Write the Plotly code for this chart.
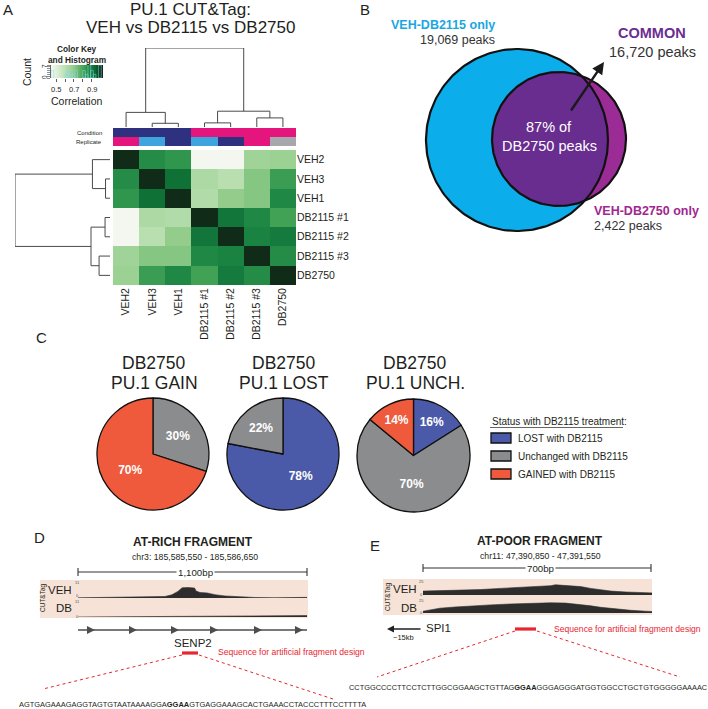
import numpy as np
import plotly.graph_objects as go

W, H = 708, 709
FONT = "Liberation Sans, Arial, Helvetica, sans-serif"
INK = "#231F20"

# ---------------- data ----------------
samples = ["VEH2", "VEH3", "VEH1", "DB2115 #1", "DB2115 #2", "DB2115 #3", "DB2750"]
corr = [
    [1.00, 0.86, 0.84, 0.45, 0.45, 0.66, 0.67],
    [0.86, 1.00, 0.92, 0.63, 0.60, 0.71, 0.82],
    [0.84, 0.92, 1.00, 0.62, 0.69, 0.71, 0.87],
    [0.45, 0.63, 0.62, 1.00, 0.91, 0.87, 0.81],
    [0.45, 0.60, 0.69, 0.91, 1.00, 0.88, 0.90],
    [0.66, 0.71, 0.71, 0.87, 0.88, 1.00, 0.86],
    [0.67, 0.82, 0.87, 0.81, 0.90, 0.86, 1.00],
]
condition = ["VEH", "VEH", "VEH", "DB", "DB", "DB", "DB"]
replicate = ["r3", "r2", "r1", "r2", "r1", "r3", "single"]
# dendrogram merges (leaf indices in display order, new ids from 7) and heights
dend_merges = [(1, 2), (0, 7), (3, 4), (5, 6), (9, 10), (8, 11)]
dend_heights = [0.047, 0.185, 0.052, 0.115, 0.2, 1.0]
key_ticks = [0.5, 0.6, 0.7, 0.8, 0.9]
key_ticklabels = ["0.5", "", "0.7", "", "0.9"]

venn_labels = ["VEH-DB2115 only", "COMMON", "VEH-DB2750 only"]
venn_counts = [19069, 16720, 2422]
common_pct = 87

pie_titles = ["DB2750<br>PU.1 GAIN", "DB2750<br>PU.1 LOST", "DB2750<br>PU.1 UNCH."]
pie_status = [["Unchanged", "GAINED"], ["LOST", "Unchanged"], ["LOST", "Unchanged", "GAINED"]]
pie_values = [[30, 70], [78, 22], [16, 70, 14]]
status_order = ["LOST", "Unchanged", "GAINED"]
status_text = ["LOST with DB2115", "Unchanged with DB2115", "GAINED with DB2115"]

# genome tracks (bp offset within window, signal)
d_veh_pos = [0, 106, 200, 346, 418, 451, 470, 480, 500, 515, 530, 545, 560, 567, 586, 620, 658, 706, 778, 850, 946, 1042, 1100]
d_veh_val = [0.15, 0.4, 0.5, 0.6, 1.2, 2.5, 4.0, 5.2, 8.0, 8.3, 8.2, 8.0, 7.8, 5.5, 4.3, 4.0, 2.6, 1.6, 0.8, 0.4, 0.2, 0.5, 0.5]
d_db_pos = [0, 696, 850, 1000, 1100]
d_db_val = [0.0, 0.9, 0.7, 1.1, 1.1]
e_veh_pos = [0, 52, 114, 175, 236, 298, 359, 390, 405, 427, 451, 482, 513, 543, 574, 620, 666, 700]
e_veh_val = [6.5, 7, 7.5, 9, 11, 12.5, 14, 15.5, 17, 16, 15, 14, 11, 8.5, 6.5, 5, 4, 3.5]
e_db_pos = [0, 21, 52, 98, 144, 206, 267, 328, 390, 436, 482, 513, 543, 589, 635, 681, 700]
e_db_val = [3, 5, 8, 10, 12, 13.5, 15, 16.5, 17, 16.5, 14.5, 12, 9.5, 6.5, 4.5, 3, 2.5]
d_span, e_span = 1100, 700
d_max, e_max = 11, 25

seq_d = "AGTGAGAAAGAGGTAGTGTAATAAAAGGA<b>GGAA</b>GTGAGGAAAGCACTGAAACCTACCCTTTCCTTTTA"
seq_e = "CCTGGCCCCTTCCTCTTGGCGGAAGCTGTTAG<b>GGAA</b>GGGAGGGATGGTGGCCTGCTGTGGGGGAAAAC"

# ---------------- colours ----------------
GREENS = [[0, '#F7F8F4'], [0.25, '#C2E3BA'], [0.45, '#92CC8A'], [0.65, '#44A457'],
          [0.8, '#168040'], [0.9, '#0B6630'], [1.0, '#102C18']]
ANN_PAL = {"VEH": "#2E3180", "DB": "#E5157E", "r1": "#2E3180", "r2": "#3DA4DD", "r3": "#E5157E", "single": "#A7A8AC"}
ANN_KEYS = ["#2E3180", "#E5157E", "#3DA4DD", "#A7A8AC"]
STATUS_COL = {"LOST": "#4B5AA8", "Unchanged": "#8B8C8E", "GAINED": "#EE5A3B"}
V_BLUE, V_MAG, V_PUR = "#0BAEEA", "#9B2C96", "#692C8F"


def px_x(a, b):
    return [a / W, b / W]


def px_y(top, bottom):
    return [1 - bottom / H, 1 - top / H]


fig = go.Figure()
lay = dict(width=W, height=H, margin=dict(l=0, r=0, t=0, b=0), paper_bgcolor='white',
           plot_bgcolor='rgba(0,0,0,0)', showlegend=False, font=dict(family=FONT, color=INK))
hid = dict(visible=False, fixedrange=True, showgrid=False, zeroline=False)

# ---- heatmap
fig.add_trace(go.Heatmap(z=corr, x=list(range(7)), y=list(range(7)), colorscale=GREENS,
                         zmin=0.44, zmax=1.0, showscale=False, hoverinfo='skip', xaxis='x', yaxis='y'))
lay['xaxis'] = dict(domain=px_x(113, 296), range=[-0.5, 6.5], tickvals=list(range(7)), ticktext=samples,
                    tickangle=-90, tickfont=dict(size=10.5), ticks='', showgrid=False, zeroline=False,
                    anchor='y', fixedrange=True)
lay['yaxis'] = dict(domain=px_y(150, 285), range=[6.5, -0.5], tickvals=list(range(7)), ticktext=samples,
                    side='right', tickfont=dict(size=10.5), ticks='', showgrid=False, zeroline=False,
                    anchor='x', fixedrange=True)

# ---- annotation colour bars
code = {c: i for i, c in enumerate(ANN_KEYS)}
ann_z = [[code[ANN_PAL[r]] for r in replicate], [code[ANN_PAL[c]] for c in condition]]
dcs = []
for i, c in enumerate(ANN_KEYS):
    dcs += [[i / 4, c], [(i + 1) / 4, c]]
fig.add_trace(go.Heatmap(z=ann_z, x=list(range(7)), y=[0, 1], colorscale=dcs, zmin=-0.5, zmax=3.5,
                         showscale=False, hoverinfo='skip', xaxis='x2', yaxis='y2'))
lay['xaxis2'] = dict(hid, domain=px_x(113, 296), range=[-0.5, 6.5], anchor='y2')
lay['yaxis2'] = dict(hid, domain=px_y(128, 146), range=[-0.5, 1.5], anchor='x2')

# ---- dendrograms
pos = {i: float(i) for i in range(7)}
hgt = {i: 0.0 for i in range(7)}
dp, dh = [], []
for k, ((a, b), h) in enumerate(zip(dend_merges, dend_heights)):
    dp += [pos[a], pos[a], pos[b], pos[b], None]
    dh += [hgt[a], h, h, hgt[b], None]
    pos[7 + k] = (pos[a] + pos[b]) / 2
    hgt[7 + k] = h
fig.add_trace(go.Scatter(x=dp, y=dh, mode='lines', line=dict(color='#4a4a4a', width=1),
                         hoverinfo='skip', xaxis='x3', yaxis='y3'))
lay['xaxis3'] = dict(hid, domain=px_x(113, 296), range=[-0.5, 6.5], anchor='y3')
lay['yaxis3'] = dict(hid, domain=px_y(48, 127), range=[0, 1], anchor='x3')
fig.add_trace(go.Scatter(x=dh, y=dp, mode='lines', line=dict(color='#4a4a4a', width=1),
                         hoverinfo='skip', xaxis='x4', yaxis='y4'))
lay['xaxis4'] = dict(hid, domain=px_x(15, 110), range=[1, 0], anchor='y4')
lay['yaxis4'] = dict(hid, domain=px_y(150, 285), range=[6.5, -0.5], anchor='x4')

# ---- colour key + histogram
KEY_RANGE = [0.44, 1.03]
key_x = list(np.linspace(0.44, 1.03, 80))
fig.add_trace(go.Heatmap(z=[key_x], x=key_x, y=[0.5], colorscale=GREENS, zmin=0.44, zmax=1.0,
                         showscale=False, hoverinfo='skip', xaxis='x5', yaxis='y5'))
lay['xaxis5'] = dict(domain=px_x(51, 103), range=KEY_RANGE, anchor='y5', tickvals=key_ticks,
                     showticklabels=False, ticks='outside', ticklen=3, tickcolor='#333', tickwidth=0.8,
                     showgrid=False, zeroline=False, showline=False, fixedrange=True)
lay['yaxis5'] = dict(hid, domain=px_y(65, 78), range=[0, 1], anchor='x5')
flat = [v for row in corr for v in row]
fig.add_trace(go.Histogram(x=flat, xbins=dict(start=0.44, end=1.03, size=0.03),
                           marker=dict(color='rgba(0,0,0,0)', line=dict(color='rgba(130,220,235,0.75)', width=0.7)),
                           hoverinfo='skip', xaxis='x6', yaxis='y6'))
lay['xaxis6'] = dict(hid, domain=px_x(51, 103), range=KEY_RANGE, anchor='y6')
lay['yaxis6'] = dict(domain=px_y(65, 78), range=[0, 7], anchor='x6', showline=True, linecolor='#444',
                     linewidth=0.8, ticks='outside', ticklen=3, tickwidth=0.6, tickcolor='#444', dtick=1,
                     showticklabels=False, showgrid=False, zeroline=False, fixedrange=True)

# ---- genome tracks
TR = dict(mode='lines', fill='tozeroy', fillcolor='#2D2D2D', line=dict(color='#2D2D2D', width=0.6),
          hoverinfo='skip')
tracks = [
    (d_veh_pos, d_veh_val, px_x(78, 307), px_y(584, 598), d_span, d_max),
    (d_db_pos, d_db_val, px_x(78, 307), px_y(603, 617), d_span, d_max),
    (e_veh_pos, e_veh_val, px_x(423, 652), px_y(580, 595), e_span, e_max),
    (e_db_pos, e_db_val, px_x(423, 652), px_y(598, 613), e_span, e_max),
]
for i, (xp, yv, dxd, dyd, span, mx) in enumerate(tracks):
    n = 7 + i
    fig.add_trace(go.Scatter(x=xp, y=yv, xaxis='x%d' % n, yaxis='y%d' % n, **TR))
    lay['xaxis%d' % n] = dict(hid, domain=dxd, range=[0, span], anchor='y%d' % n)
    lay['yaxis%d' % n] = dict(hid, domain=dyd, range=[0, mx], anchor='x%d' % n)

# ---- pixel overlay axis (x11/y11) for diagram elements
lay['xaxis11'] = dict(hid, domain=[0, 1], range=[0, W], anchor='y11')
lay['yaxis11'] = dict(hid, domain=[0, 1], range=[H, 0], anchor='x11')
PX = dict(xaxis='x11', yaxis='y11', hoverinfo='skip')

# Venn
cb, rb = np.array([517.0, 140.0]), 91.0
cp, rp = np.array([559.0, 139.0]), 67.0
th = np.linspace(0, 2 * np.pi, 240)


def circ(c, r):
    return c[0] + r * np.cos(th), c[1] + r * np.sin(th)


def inter(c1, r1, c2, r2):
    d = np.linalg.norm(c2 - c1)
    a = (r1 ** 2 - r2 ** 2 + d ** 2) / (2 * d)
    hh = np.sqrt(r1 ** 2 - a ** 2)
    u = (c2 - c1) / d
    p0 = c1 + a * u
    perp = np.array([-u[1], u[0]])
    return p0 + hh * perp, p0 - hh * perp


def arc(c, r, p, q, oc, orr):
    t0 = np.arctan2(p[1] - c[1], p[0] - c[0])
    t1 = np.arctan2(q[1] - c[1], q[0] - c[0])
    d = (t1 - t0) % (2 * np.pi)
    m = t0 + d / 2
    if np.hypot(c[0] + r * np.cos(m) - oc[0], c[1] + r * np.sin(m) - oc[1]) > orr:
        d -= 2 * np.pi
    t = t0 + np.linspace(0, 1, 120) * d
    return c[0] + r * np.cos(t), c[1] + r * np.sin(t)


P, Q = inter(cb, rb, cp, rp)
ax1, ay1 = arc(cp, rp, P, Q, cb, rb)
ax2, ay2 = arc(cb, rb, Q, P, cp, rp)
bx, by = circ(cb, rb)
mx_, my_ = circ(cp, rp)
fig.add_trace(go.Scatter(x=bx, y=by, fill='toself', fillcolor=V_BLUE, mode='lines', line=dict(width=0), **PX))
fig.add_trace(go.Scatter(x=mx_, y=my_, fill='toself', fillcolor=V_MAG, mode='lines', line=dict(width=0), **PX))
fig.add_trace(go.Scatter(x=np.concatenate([ax1, ax2]), y=np.concatenate([ay1, ay2]), fill='toself',
                         fillcolor=V_PUR, mode='lines', line=dict(width=0), **PX))
fig.add_trace(go.Scatter(x=bx, y=by, mode='lines', line=dict(color='#111', width=2.2), **PX))
fig.add_trace(go.Scatter(x=mx_, y=my_, mode='lines', line=dict(color='#111', width=2.2), **PX))


def seg(xs, ys, color, width, dash='solid'):
    fig.add_trace(go.Scatter(x=xs, y=ys, mode='lines', line=dict(color=color, width=width, dash=dash), **PX))


# scale bars
for (x0, x1, yy) in [(78, 307, 572), (423, 651, 568)]:
    seg([x0, x1, None, x0, x0, None, x1, x1], [yy, yy, None, yy - 4, yy + 4, None, yy - 4, yy + 4], '#333', 1.1)
# SENP2 gene line with chevrons
seg([78, 307], [630, 630], '#4d4d4d', 1.6)
fig.add_trace(go.Scatter(x=[95, 137, 179, 218, 262, 303], y=[630] * 6, mode='markers',
                         marker=dict(symbol='arrow-right', size=8, color='#4d4d4d'), **PX))
# red fragment bars + dotted guides
RED = '#E8262F'
seg([182, 198], [653, 653], RED, 3.2)
seg([515, 536], [629, 629], RED, 3.2)
seg([182, 43], [655, 689], RED, 1, 'dot')
seg([199, 333], [655, 699], RED, 1, 'dot')
seg([515, 377], [631, 677], RED, 1, 'dot')
seg([537, 680], [631, 677], RED, 1, 'dot')

# ---- pies
pie_dom = [(px_x(97, 209), px_y(398, 510)), (px_x(227, 339), px_y(398, 510)), (px_x(357, 470), px_y(399, 512))]
for vals, stat, (dxd, dyd) in zip(pie_values, pie_status, pie_dom):
    fig.add_trace(go.Pie(values=vals, labels=stat, sort=False, direction='clockwise', rotation=0,
                         domain=dict(x=dxd, y=dyd), marker=dict(colors=[STATUS_COL[s] for s in stat],
                                                                line=dict(color='#111', width=1.3)),
                         texttemplate='<b>%{value}%</b>', textposition='inside', insidetextorientation='horizontal',
                         textfont=dict(color='white', size=12, family=FONT), hoverinfo='skip'))

# ---- shapes
shapes = []
for (x0, x1, y0, y1) in [(40, 308, 580, 618), (383, 652, 579, 615)]:
    shapes.append(dict(type='rect', xref='paper', yref='paper', x0=x0 / W, x1=x1 / W, y0=1 - y1 / H, y1=1 - y0 / H,
                       fillcolor='#F6E2D6', line=dict(width=0), layer='below'))
for i, s in enumerate(status_order):
    y0 = 433 + 18 * i
    shapes.append(dict(type='rect', xref='x11', yref='y11', x0=491, x1=511, y0=y0, y1=y0 + 10,
                       fillcolor=STATUS_COL[s], line=dict(color='#111', width=1.3)))
shapes.append(dict(type='line', xref='x11', yref='y11', x0=490, x1=623, y0=427.5, y1=427.5,
                   line=dict(color='#222', width=0.7)))
lay['shapes'] = shapes

# ---- annotations
anns = []


def T(x, y, text, size, color=INK, xa='center', angle=0, bg=None, xref='x11'):
    d = dict(xref=xref, yref='y11', x=x, y=y, text=text, showarrow=False, xanchor=xa, yanchor='middle',
             textangle=angle, font=dict(size=size, color=color, family=FONT))
    if bg:
        d['bgcolor'] = bg
        d['borderpad'] = 1
    anns.append(d)


# panel letters
for lbl, x, y in [("A", 8, 9), ("B", 365, 9), ("C", 41, 337), ("D", 39, 537), ("E", 375, 545)]:
    T(x, y, lbl, 15)
# A
T(190, 9.5, "PU.1 CUT&amp;Tag:", 17)
T(190, 27, "VEH vs DB2115 vs DB2750", 17)
T(77, 49, "<b>Color Key</b>", 8.3)
T(77, 60, "<b>and Histogram</b>", 8.3)
T(27, 72, "Count", 10.5, angle=-90)
T(44, 66, "7", 6.5, angle=-90)
T(44, 77, "0", 6.5, angle=-90)
for v, t in zip(key_ticks, key_ticklabels):
    if t:
        T(v, 89, t, 7.5, xref='x5')
T(77, 101, "Correlation", 10.5)
T(104, 132.5, "Condition", 6, xa='right')
T(104, 141.5, "Replicate", 6, xa='right')
# B
T(497, 25, "<b>%s</b>" % venn_labels[0], 12.5, color='#1BA6DF', xa='right')
T(497, 40, "{:,} peaks".format(venn_counts[0]), 12.5, color='#333', xa='right')
T(652, 33, "<b>%s</b>" % venn_labels[1], 14.5, color='#6B2D90')
T(652, 52, "{:,} peaks".format(venn_counts[1]), 14.5, color='#333')
T(549, 127, "%d%% of" % common_pct, 14.5, color='white')
T(549, 146, "DB2750 peaks", 14.5, color='white')
T(592, 211, "<b>%s</b>" % venn_labels[2], 12.5, color='#A1268F', xa='left')
T(592, 226, "{:,} peaks".format(venn_counts[2]), 12.5, color='#333', xa='left')
anns.append(dict(xref='x11', yref='y11', axref='x11', ayref='y11', x=604, y=62, ax=570, ay=112,
                 showarrow=True, arrowhead=2, arrowsize=1, arrowwidth=2.4, arrowcolor='#1a1a1a', text=''))
# C
for (xc, t) in zip([154, 284, 415], pie_titles):
    l1, l2 = t.split("<br>")
    T(xc, 363, l1, 17.5)
    T(xc, 382.5, l2, 17.5)
T(490, 421, "Status with DB2115 treatment:", 10, xa='left')
for i, t in enumerate(status_text):
    T(516, 438 + 18 * i, t, 10, xa='left')
# D
T(193, 542, "<b>AT-RICH FRAGMENT</b>", 12)
T(195, 557, "chr3: 185,585,550 - 185,586,650", 8.7)
T(195, 572, "1,100bp", 9.7, bg='white')
T(43, 598, "CUT&amp;Tag", 6.5, angle=-90)
T(74, 590, "VEH", 11.5, xa='right')
T(74, 608, "DB", 11.5, xa='right')
for yy, t in [(582, str(d_max)), (595, "0"), (601, str(d_max)), (616, "0")]:
    T(77, yy, t, 4, color='#555', xa='center')
T(193, 643, "SENP2", 11.5)
T(216, 652, "Sequence for artificial fragment design", 8.6, color=RED, xa='left')
T(17, 704.5, seq_d, 7.45, xa='left')
# E
T(540, 541, "<b>AT-POOR FRAGMENT</b>", 12)
T(540, 556, "chr11: 47,390,850 - 47,391,550", 8.7)
T(540, 568, "700bp", 9.7, bg='white')
T(388, 597, "CUT&amp;Tag", 6.5, angle=-90)
T(419, 589, "VEH", 11.5, xa='right')
T(419, 608, "DB", 11.5, xa='right')
for yy, t in [(581, str(e_max)), (594, "0"), (600, str(e_max)), (612, "0")]:
    T(421, yy, t, 4, color='#555', xa='center')
anns.append(dict(xref='x11', yref='y11', axref='x11', ayref='y11', x=387, y=629, ax=422, ay=629,
                 showarrow=True, arrowhead=2, arrowsize=1, arrowwidth=1.4, arrowcolor='#222', text=''))
T(424, 628, "SPI1", 11.5, xa='left')
T(403, 637, "~15kb", 7.5)
T(552, 629, "Sequence for artificial fragment design", 8.6, color=RED, xa='left')
T(347, 687, seq_e, 7.4, xa='left')

lay['annotations'] = anns
fig.update_layout(**lay)
fig.write_html("out.html", config={'displayModeBar': False, 'staticPlot': True}, post_script=(
    "document.documentElement.style.margin='0';document.body.style.margin='0';"
    "document.body.style.padding='0';document.body.style.overflow='hidden';"
    "document.documentElement.style.overflow='hidden';"))
